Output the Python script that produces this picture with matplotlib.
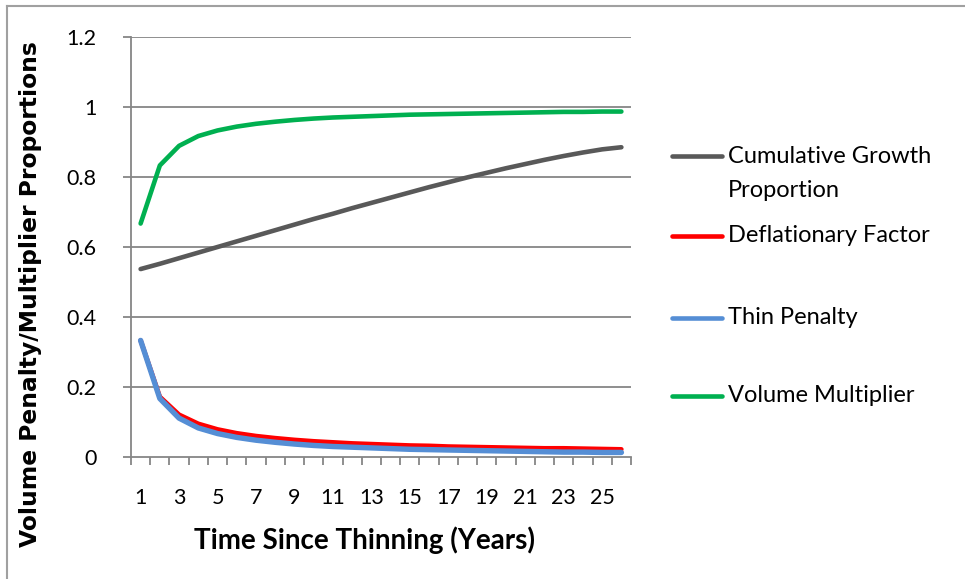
import matplotlib
matplotlib.use("Agg")
import matplotlib.pyplot as plt
from matplotlib.lines import Line2D

plt.rcParams['font.family'] = ['Lato', 'DejaVu Sans']

years = list(range(1, 27))
cumulative_growth = [0.537, 0.552, 0.568, 0.584, 0.600, 0.616, 0.632, 0.648, 0.664,
                     0.680, 0.695, 0.711, 0.726, 0.741, 0.756, 0.771, 0.785, 0.799,
                     0.812, 0.825, 0.837, 0.849, 0.860, 0.870, 0.879, 0.885]
deflationary_factor = [0.333, 0.172, 0.121, 0.095, 0.079, 0.068, 0.060, 0.054, 0.049,
                       0.045, 0.042, 0.039, 0.037, 0.035, 0.033, 0.032, 0.030, 0.029,
                       0.028, 0.027, 0.026, 0.025, 0.025, 0.024, 0.023, 0.022]
thin_penalty = [0.333, 0.167, 0.111, 0.083, 0.067, 0.056, 0.048, 0.042, 0.037,
                0.033, 0.030, 0.028, 0.026, 0.024, 0.022, 0.021, 0.020, 0.019,
                0.018, 0.017, 0.016, 0.015, 0.014, 0.014, 0.013, 0.013]
volume_multiplier = [0.667, 0.833, 0.889, 0.917, 0.933, 0.944, 0.952, 0.958, 0.963,
                     0.967, 0.970, 0.972, 0.974, 0.976, 0.978, 0.979, 0.980, 0.981,
                     0.982, 0.983, 0.984, 0.985, 0.986, 0.986, 0.987, 0.987]

series_names = ["Cumulative Growth\nProportion", "Deflationary Factor",
                "Thin Penalty", "Volume Multiplier"]
series_colors = ["#595959", "#FF0000", "#558ED5", "#00B050"]
y_ticks = [0, 0.2, 0.4, 0.6, 0.8, 1.0, 1.2]
y_tick_labels = ["0", "0.2", "0.4", "0.6", "0.8", "1", "1.2"]
x_tick_values = list(range(1, 27, 2))

W, H = 965, 579
fig = plt.figure(figsize=(W / 100, H / 100), dpi=100)
ax = fig.add_axes([131 / W, 1 - 457 / H, 500 / W, 420 / H])

grid_c = "#868686"
for v in y_ticks[1:]:
    ax.axhline(v, color=grid_c, lw=1.3, zorder=1)

lw = 3.3
ax.plot(years, cumulative_growth, color=series_colors[0], lw=lw, solid_capstyle='round', zorder=3)
ax.plot(years, deflationary_factor, color=series_colors[1], lw=lw, solid_capstyle='round', zorder=3)
ax.plot(years, thin_penalty, color=series_colors[2], lw=lw + 0.6, solid_capstyle='round', zorder=4)
ax.plot(years, volume_multiplier, color=series_colors[3], lw=lw, solid_capstyle='round', zorder=3)

ax.set_xlim(0.5, 26.5)
ax.set_ylim(0, 1.2)
for s in ["top", "right"]:
    ax.spines[s].set_visible(False)
for s in ["left", "bottom"]:
    ax.spines[s].set_color(grid_c)
    ax.spines[s].set_linewidth(1.3)

ax.set_yticks(y_ticks)
ax.set_yticklabels(y_tick_labels)
ax.tick_params(axis='y', length=6, width=1.3, color=grid_c, pad=19, labelsize=15.5)
ax.set_xticks(x_tick_values)
ax.set_xticklabels([str(v) for v in x_tick_values])
ax.set_xticks([v + 0.5 for v in range(0, 27)], minor=True)
ax.tick_params(axis='x', which='major', length=0, pad=22, labelsize=15.5)
ax.tick_params(axis='x', which='minor', length=6, width=1.3, color=grid_c)

fig.text(365 / W, 1 - 540 / H, "Time Since Thinning (Years)", ha='center', va='center',
         fontsize=20, fontweight='bold')
fig.text(31 / W, 1 - 294 / H, "Volume Penalty/Multiplier Proportions", rotation=90,
         ha='center', va='center', fontsize=16.8, fontweight='bold', family='DejaVu Sans')

# legend drawn at the right of the plot area
legend_y = [156, 236, 318, 396]
for name, color, yy in zip(series_names, series_colors, legend_y):
    fy = 1 - yy / H
    fig.add_artist(Line2D([672 / W, 722 / W], [fy, fy], color=color, lw=lw,
                          solid_capstyle='round'))
    if "\n" in name:
        fig.text(728 / W, 1 - (yy - 10) / H, name, ha='left', va='top',
                 fontsize=17, linespacing=1.75)
    else:
        fig.text(728 / W, fy, name, ha='left', va='center', fontsize=17)

# outer chart frame
frame_c = "#A0A0A0"
fig.add_artist(Line2D([7 / W, 7 / W], [0, 1 - 6 / H], color=frame_c, lw=1.5))
fig.add_artist(Line2D([7 / W, 1], [1 - 6 / H, 1 - 6 / H], color=frame_c, lw=1.5))

fig.savefig("out.png", dpi=100)
